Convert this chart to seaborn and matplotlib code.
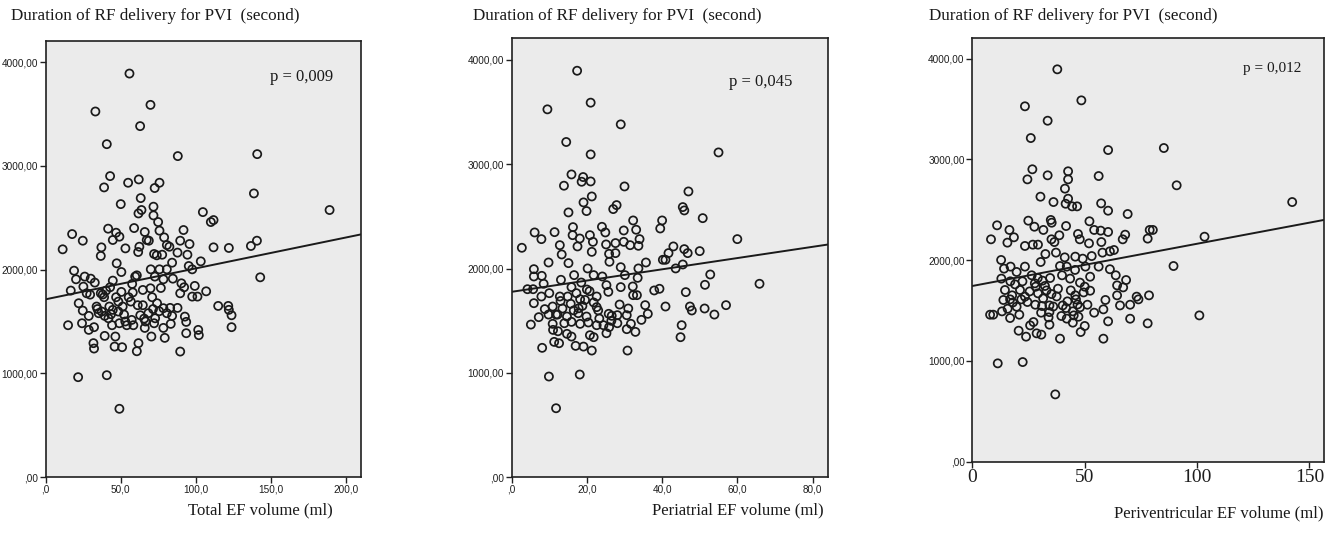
import numpy as np
import pandas as pd
import matplotlib
matplotlib.use("Agg")
import matplotlib.pyplot as plt
import seaborn as sns
from matplotlib.ticker import FuncFormatter

# Data (x = EF volume in ml, y = RF duration in seconds)

total_x = [55.8, 69.8, 33.1, 62.9, 40.7, 88.0, 140.9, 42.9, 62.0, 54.9, 75.8, 38.9, 72.6, 138.7, 63.3,
           50.0, 71.8, 63.8, 61.8, 104.7, 189.1, 71.8, 110.0, 111.8, 74.9, 17.6, 41.6, 58.9, 66.0, 46.9,
           49.1, 75.8, 91.8, 24.7, 44.7, 68.7, 78.9, 140.7, 95.8, 89.6, 11.3, 37.1, 53.1, 62.4, 82.4,
           111.8, 122.0, 136.7, 36.7, 61.6, 72.2, 77.6, 87.8, 94.4, 47.3, 84.2, 103.3, 95.3, 97.6, 18.9,
           50.4, 70.0, 75.8, 60.7, 80.7, 20.2, 26.0, 30.0, 32.7, 44.7, 57.6, 72.7, 78.4, 84.7, 90.4,
           99.3, 142.9, 16.7, 25.1, 36.7, 40.2, 42.9, 50.4, 64.7, 76.7, 92.2, 106.9, 22.0, 29.6, 38.9,
           46.9, 55.3, 61.3, 70.9, 89.6, 97.6, 101.1, 24.7, 33.9, 42.4, 51.3, 64.7, 74.2, 82.9, 87.8,
           114.9, 121.6, 28.7, 35.3, 39.3, 44.7, 52.2, 65.6, 75.6, 80.7, 84.2, 92.7, 122.0, 123.8, 24.2,
           14.9, 32.2, 28.7, 44.2, 49.1, 54.0, 58.4, 72.2, 83.3, 93.6, 66.0, 78.4, 123.8, 39.3, 46.4,
           70.4, 79.3, 93.6, 101.6, 102.0, 31.8, 45.9, 50.9, 61.8, 32.2, 60.7, 89.6, 21.6, 40.7, 49.1,
           37.3, 41.8, 48.4, 57.3, 68.4, 72.9, 78.4, 56.7, 48.4, 69.8, 59.6, 74.0, 80.7, 67.3, 27.3,
           34.5, 43.5, 53.0, 63.0, 71.5, 38.0, 58.0, 66.5]
total_y = [3891, 3589, 3525, 3384, 3210, 3095, 3114, 2902, 2870, 2838, 2838, 2793, 2787, 2735, 2690,
           2632, 2607, 2575, 2542, 2555, 2575, 2523, 2459, 2478, 2459, 2343, 2395, 2401, 2363, 2356,
           2318, 2376, 2382, 2279, 2286, 2279, 2311, 2279, 2247, 2279, 2196, 2215, 2205, 2221, 2221,
           2215, 2209, 2228, 2132, 2170, 2151, 2144, 2164, 2144, 2061, 2067, 2080, 2035, 2003, 1990,
           1977, 2003, 2003, 1945, 2003, 1907, 1933, 1913, 1875, 1894, 1862, 1933, 1907, 1913, 1868,
           1843, 1926, 1798, 1836, 1772, 1798, 1830, 1785, 1804, 1823, 1830, 1791, 1676, 1759, 1734,
           1734, 1734, 1657, 1734, 1772, 1740, 1740, 1605, 1644, 1644, 1644, 1657, 1676, 1631, 1631,
           1650, 1650, 1554, 1580, 1554, 1612, 1567, 1528, 1599, 1580, 1554, 1547, 1612, 1560, 1483,
           1464, 1445, 1419, 1464, 1483, 1464, 1464, 1483, 1477, 1496, 1438, 1438, 1445, 1361, 1355,
           1355, 1342, 1387, 1419, 1368, 1291, 1258, 1252, 1291, 1239, 1213, 1210, 963, 982, 658,
           1596, 1531, 1596, 1515, 1580, 1531, 1628, 1692, 1692, 1820, 1933, 2138, 2237, 2286, 1772,
           1620, 1570, 1500, 1560, 1620, 1760, 1780, 1500]

peri_atr_x = [17.4, 21.0, 9.5, 29.0, 14.5, 21.0, 55.0, 15.9, 19.0, 18.6, 21.0, 13.9, 30.0, 47.0, 21.3,
              19.1, 27.9, 27.0, 19.9, 15.1, 45.5, 45.9, 32.3, 40.0, 50.8, 6.1, 11.4, 16.3, 24.0, 33.1,
              39.5, 7.9, 16.2, 18.1, 20.8, 24.9, 29.8, 34.0, 60.0, 2.7, 12.8, 17.5, 21.6, 25.1, 27.6,
              29.8, 31.5, 33.7, 43.0, 50.0, 13.3, 21.3, 25.9, 27.6, 45.9, 46.8, 41.7, 9.8, 15.1, 26.0,
              40.2, 40.9, 5.9, 20.2, 29.0, 33.7, 35.7, 43.6, 45.5, 5.9, 8.0, 13.1, 16.6, 21.8, 24.1,
              30.1, 33.5, 52.8, 4.2, 5.7, 8.5, 15.9, 18.5, 20.7, 25.2, 29.0, 32.2, 37.9, 39.3, 51.4,
              65.9, 7.9, 10.0, 12.8, 14.9, 17.2, 18.2, 22.6, 25.7, 32.3, 33.3, 46.3, 5.9, 8.8, 10.9,
              13.5, 15.7, 18.8, 21.8, 22.6, 28.7, 31.0, 35.5, 40.9, 47.4, 47.9, 51.3, 57.0, 7.2, 9.8,
              12.2, 14.7, 17.7, 19.9, 23.3, 25.8, 26.6, 28.1, 30.6, 36.2, 53.9, 5.1, 10.9, 14.0, 15.9,
              18.2, 20.4, 22.6, 24.4, 25.9, 28.1, 30.6, 31.7, 34.5, 45.2, 11.0, 12.3, 14.7, 25.2, 32.9,
              11.3, 12.6, 15.9, 20.8, 21.8, 17.0, 19.1, 21.3, 8.1, 30.8, 44.9, 9.9, 18.1, 11.8,
              16.5, 19.5, 23.0, 13.0, 17.8, 26.5, 11.8, 20.0]
peri_atr_y = [3897, 3591, 3527, 3383, 3214, 3095, 3114, 2903, 2878, 2833, 2836, 2795, 2788, 2740, 2692,
              2635, 2609, 2571, 2552, 2539, 2590, 2558, 2462, 2462, 2484, 2347, 2350, 2398, 2401, 2373,
              2385, 2283, 2321, 2289, 2321, 2347, 2366, 2283, 2283, 2200, 2225, 2213, 2257, 2232, 2245,
              2257, 2225, 2219, 2213, 2168, 2136, 2161, 2142, 2149, 2187, 2149, 2149, 2059, 2053, 2066,
              2085, 2085, 1995, 2002, 2014, 2002, 2059, 2002, 2040, 1925, 1931, 1893, 1938, 1938, 1925,
              1938, 1912, 1944, 1803, 1803, 1855, 1823, 1867, 1784, 1842, 1823, 1829, 1791, 1807, 1845,
              1855, 1733, 1765, 1733, 1733, 1765, 1707, 1733, 1778, 1746, 1746, 1775, 1669, 1612, 1637,
              1618, 1663, 1643, 1676, 1631, 1656, 1618, 1650, 1637, 1637, 1599, 1618, 1650, 1535, 1560,
              1560, 1541, 1573, 1541, 1522, 1567, 1548, 1554, 1554, 1567, 1560, 1464, 1471, 1477, 1490,
              1471, 1484, 1458, 1458, 1439, 1477, 1420, 1471, 1509, 1458, 1413, 1400, 1375, 1381, 1394,
              1298, 1285, 1349, 1362, 1343, 1260, 1253, 1215, 1241, 1215, 1343, 966, 985, 662,
              1600, 1700, 1600, 1690, 1620, 1500, 1560, 1800]

peri_ven_x = [37.8, 48.5, 23.4, 33.5, 26.0, 60.4, 85.2, 26.7, 42.6, 33.5, 56.2, 24.5, 42.6, 90.9, 41.2,
              30.3, 42.6, 36.1, 142.3, 57.3, 41.5, 44.4, 46.6, 60.4, 69.1, 11.0, 24.9, 34.9, 41.7, 52.1,
              16.5, 27.6, 31.6, 35.3, 38.7, 47.0, 54.2, 57.1, 60.4, 78.9, 80.3, 8.3, 18.5, 15.6, 23.4,
              26.9, 29.2, 35.2, 36.5, 47.8, 51.9, 57.4, 66.9, 68.0, 78.0, 103.3, 32.5, 37.2, 41.1, 45.8,
              53.1, 57.9, 61.2, 63.0, 12.8, 30.4, 49.1, 39.0, 42.0, 45.7, 50.3, 56.2, 61.2, 89.5, 14.1,
              17.0, 23.4, 19.7, 26.4, 29.1, 34.6, 52.4, 63.8, 68.4, 12.9, 16.9, 22.3, 31.2, 39.9, 43.5,
              47.9, 14.5, 21.2, 28.2, 32.3, 38.1, 50.0, 64.4, 67.1, 17.7, 23.4, 29.2, 35.2, 45.8, 52.4,
              73.1, 78.6, 64.4, 13.8, 16.8, 21.8, 24.5, 28.0, 31.0, 34.3, 40.2, 42.3, 46.1, 51.2, 59.2,
              65.7, 70.2, 73.9, 13.2, 15.7, 19.7, 30.6, 34.3, 41.7, 44.7, 47.9, 54.2, 58.3, 7.9, 9.3,
              16.8, 20.9, 33.9, 39.6, 45.1, 47.2, 101.0, 25.7, 27.2, 34.3, 44.7, 60.4, 70.2, 78.0, 20.6,
              28.6, 30.7, 48.2, 50.0, 23.9, 39.0, 58.3, 11.3, 22.4, 36.9,
              19.0, 25.5, 33.0, 37.5, 43.8, 49.5, 27.8, 36.0, 42.0, 18.0, 31.5, 46.8]
peri_ven_y = [3894, 3586, 3527, 3384, 3212, 3093, 3113, 2902, 2882, 2842, 2835, 2802, 2802, 2743, 2710,
              2630, 2610, 2577, 2577, 2564, 2560, 2534, 2534, 2491, 2458, 2346, 2392, 2399, 2339, 2386,
              2300, 2332, 2300, 2372, 2247, 2260, 2300, 2293, 2280, 2300, 2300, 2207, 2227, 2174, 2141,
              2154, 2154, 2207, 2180, 2207, 2167, 2180, 2207, 2253, 2214, 2233, 2061, 2075, 2028, 2035,
              2041, 2075, 2088, 2101, 2002, 1982, 2015, 1942, 1936, 1903, 1936, 1936, 1910, 1942, 1916,
              1936, 1936, 1883, 1850, 1823, 1823, 1836, 1850, 1803, 1817, 1790, 1790, 1797, 1850, 1817,
              1777, 1704, 1704, 1737, 1744, 1717, 1737, 1750, 1730, 1651, 1638, 1671, 1664, 1651, 1697,
              1638, 1651, 1651, 1605, 1611, 1611, 1585, 1558, 1545, 1551, 1551, 1591, 1611, 1558, 1605,
              1551, 1558, 1611, 1492, 1518, 1538, 1479, 1485, 1525, 1492, 1532, 1479, 1512, 1459, 1459,
              1426, 1459, 1432, 1446, 1452, 1439, 1452, 1353, 1386, 1360, 1380, 1393, 1419, 1373, 1300,
              1274, 1261, 1287, 1347, 1241, 1221, 1221, 976, 989, 668,
              1760, 1690, 1700, 1640, 1700, 1680, 1770, 1540, 1420, 1580, 1620, 1560]

# fitted lines as drawn (intercept, slope) and p values printed in each panel
fits = [(1714, 2.98), (1778, 5.39), (1744, 4.19)]
p_labels = ["p = 0,009", "p = 0,045", "p = 0,012"]
x_labels = ["Total EF volume (ml)", "Periatrial EF volume (ml)", "Periventricular EF volume (ml)"]
x_ticks = [[0, 50, 100, 150, 200], [0, 20, 40, 60, 80], [0, 50, 100, 150]]
x_limits = [210.2, 84.2, 156.5]
y_ticks = [0, 1000, 2000, 3000, 4000]
title = "Duration of RF delivery for PVI  (second)"

sns.set_style("ticks")
plt.rcParams["font.family"] = ["Liberation Sans", "DejaVu Sans"]

fig = plt.figure(figsize=(13.36, 5.55), dpi=100)
boxes = [[0.0342, 0.1405, 0.2362, 0.7862],
         [0.3830, 0.1400, 0.2370, 0.7910],
         [0.7278, 0.1681, 0.2633, 0.7640]]
title_x = [11, 473, 929]
p_pos = [(0.911, 0.917, 12), (0.885, 0.900, 12), (0.934, 0.928, 11)]

series = [(total_x, total_y), (peri_atr_x, peri_atr_y), (peri_ven_x, peri_ven_y)]
serif = "Liberation Serif"


def y_fmt(v, pos):
    s = f"{v:.2f}".replace(".", ",")
    return s[1:] if s.startswith("0") else s


def x_fmt(v, pos):
    s = f"{v:.1f}".replace(".", ",")
    return s[1:] if s.startswith("0") else s


for i, (xs, ys) in enumerate(series):
    ax = fig.add_axes(boxes[i])
    ax.set_facecolor("#ebebeb")
    df = pd.DataFrame({"x": xs, "y": ys})
    sns.scatterplot(data=df, x="x", y="y", ax=ax, s=34, marker="o",
                    facecolor="none", edgecolor="#1a1a1a", linewidth=1.25, legend=False)
    b0, b1 = fits[i]
    line = pd.DataFrame({"x": [0, x_limits[i]]})
    line["y"] = b0 + b1 * line["x"]
    sns.lineplot(data=line, x="x", y="y", ax=ax, color="#1a1a1a", linewidth=1.4)

    ax.set_xlim(0, x_limits[i])
    ax.set_ylim(0, 4208)
    ax.set_xticks(x_ticks[i])
    ax.set_yticks(y_ticks)
    ax.yaxis.set_major_formatter(FuncFormatter(y_fmt))
    ax.set_xlabel("")
    ax.set_ylabel("")
    for sp in ax.spines.values():
        sp.set_visible(True)
        sp.set_color("#202020")
        sp.set_linewidth(1.2)
    ax.tick_params(direction="out", length=4, width=1, color="#202020", labelsize=7.2,
                   labelcolor="#1e1e1e", pad=1.5)
    if i < 2:
        ax.xaxis.set_major_formatter(FuncFormatter(x_fmt))
    else:
        ax.tick_params(axis="x", labelsize=14)
        for lab in ax.get_xticklabels():
            lab.set_fontfamily(serif)

    px, py, ps = p_pos[i]
    ax.text(px, py, p_labels[i], transform=ax.transAxes,
            ha="right", va="center", fontsize=ps, family=serif, color="#1a1a1a")

    fig.text(title_x[i] / 1336, 1 - 16 / 555, title, ha="left", va="center",
             fontsize=12.3, family=serif, color="#1a1a1a")

# x labels sit under the right part of each panel
label_right = [333, 824, 1323]
label_y = [510, 510, 513]
for i in range(3):
    fig.text(label_right[i] / 1336, 1 - label_y[i] / 555, x_labels[i], ha="right", va="center",
             fontsize=12, family=serif, color="#1a1a1a")

fig.savefig("out.png", dpi=100)
